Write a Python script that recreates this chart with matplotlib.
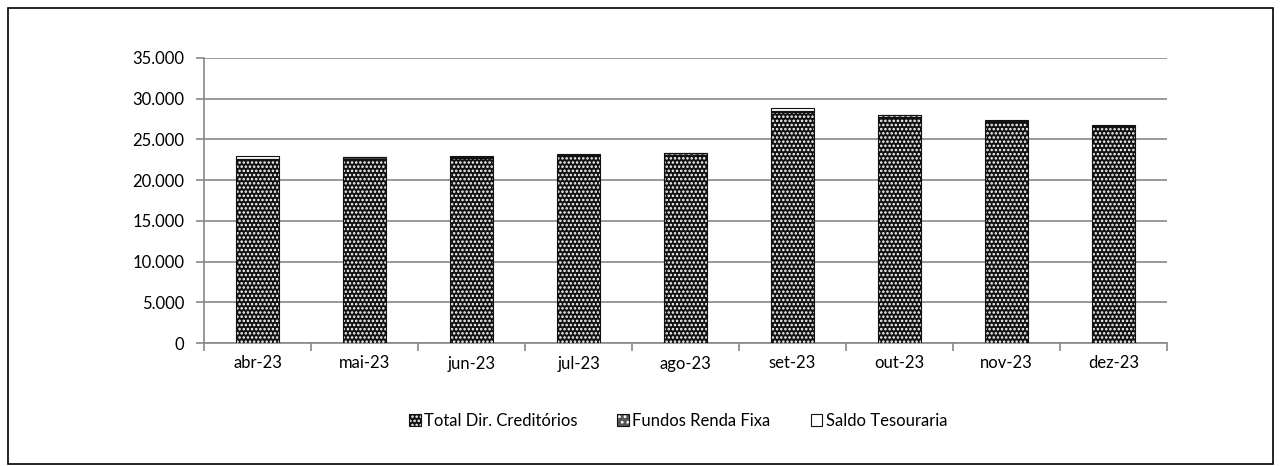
import matplotlib
matplotlib.use("Agg")
import matplotlib.pyplot as plt
from matplotlib.patches import Rectangle
from matplotlib.ticker import FuncFormatter, FixedLocator
import numpy as np

plt.rcParams['font.family'] = ['Lato', 'DejaVu Sans']
plt.rcParams['hatch.linewidth'] = 1.2

meses = ["abr-23", "mai-23", "jun-23", "jul-23", "ago-23", "set-23", "out-23", "nov-23", "dez-23"]
total_dir = [22450, 22550, 22750, 22950, 23100, 28350, 27750, 27150, 26500]
fundos_rf = [200, 250, 150, 150, 200, 100, 200, 150, 150]
saldo_tes = [300, 30, 50, 50, 20, 400, 40, 80, 70]
series = ["Total Dir. Creditórios", "Fundos Renda Fixa", "Saldo Tesouraria"]

fig = plt.figure(figsize=(12.82, 4.66), dpi=100)
ax = fig.add_axes([204 / 1282, 1 - 343 / 466, (1167 - 204) / 1282, (343 - 58) / 466])

x = np.arange(len(meses))
w = 0.4
# (face, hatch colour, hatch)
estilos = [("#111111", "white", "...."), ("#555555", "white", "..."), ("white", "#333333", ".")]
base = np.zeros(len(meses))
handles = []
for vals, nome, (fc, hc, h) in zip([total_dir, fundos_rf, saldo_tes], series, estilos):
    vals = np.array(vals)
    b = ax.bar(x, vals, w, bottom=base, color=fc, edgecolor=hc, hatch=h, linewidth=0, zorder=3)
    o = ax.bar(x, vals, w, bottom=base, fill=False, edgecolor="#111111", linewidth=0.8, zorder=4)
    handles.append((b, o))
    base += vals

ax.set_xlim(-0.5, len(meses) - 0.5)
ax.set_ylim(0, 35000)
ax.set_yticks(np.arange(0, 35001, 5000))
ax.yaxis.set_major_formatter(FuncFormatter(lambda v, p: f"{int(v):,}".replace(",", ".")))
ax.set_xticks(x)
ax.set_xticklabels(meses)
ax.xaxis.set_minor_locator(FixedLocator(np.arange(-0.5, len(meses), 1)))
ax.tick_params(axis="x", which="major", length=0, pad=9, labelsize=12)
ax.tick_params(axis="x", which="minor", length=6, color="#888888", width=1.2)
ax.tick_params(axis="y", length=6, color="#888888", width=1.2, pad=8, labelsize=12)
ax.grid(axis="y", color="#999999", linewidth=1.4, zorder=0)
for s in ["top", "right"]:
    ax.spines[s].set_visible(False)
for s in ["left", "bottom"]:
    ax.spines[s].set_color("#888888")
    ax.spines[s].set_linewidth(1.2)

fig.legend(handles=handles, labels=series, loc="center", bbox_to_anchor=(678 / 1282, 1 - 421 / 466),
           ncol=3, frameon=False, fontsize=12, handlelength=0.7, handleheight=0.7,
           handletextpad=0.2, columnspacing=2.4)

fig.patches.append(Rectangle((8 / 1282, 2 / 466), 1265 / 1282, 456 / 466, transform=fig.transFigure,
                             fill=False, edgecolor="black", linewidth=1.2))

fig.savefig("out.png", dpi=100)
